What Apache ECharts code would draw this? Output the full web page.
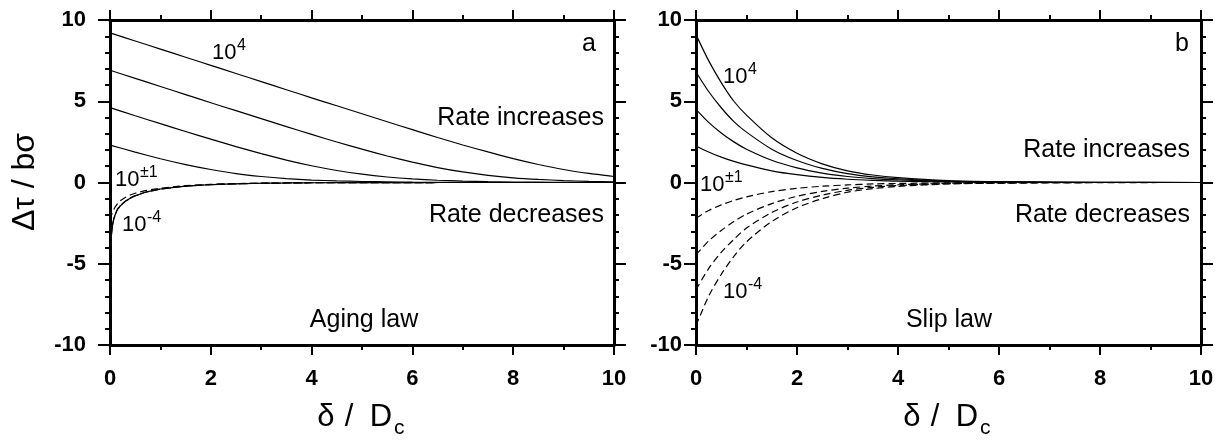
<!DOCTYPE html>
<html>
<head>
<meta charset="utf-8">
<script src="https://cdn.jsdelivr.net/npm/echarts@6/dist/echarts.min.js"></script>
<style>
html,body{margin:0;padding:0;background:#fff;}
#chart{width:1218px;height:441px;}
</style>
</head>
<body>
<div id="chart"></div>
<script>
// ---- data ----
const xTicks = [0, 2, 4, 6, 8, 10];
const yTicks = [-10, -5, 0, 5, 10];

// Panel a: aging law, rate increases (solid)
const agingIncX = [0,0.5,1,1.5,2,2.5,3,3.5,4,4.5,5,5.5,6,6.5,7,7.5,8,8.5,9,9.5,10];
const agingInc4 = [9.21,8.71,8.21,7.71,7.21,6.71,6.21,5.71,5.21,4.72,4.23,3.74,3.25,2.77,2.31,1.88,1.47,1.11,0.80,0.56,0.37];
const agingInc3 = [6.91,6.41,5.91,5.41,4.91,4.42,3.93,3.44,2.96,2.49,2.05,1.63,1.25,0.92,0.65,0.44,0.29,0.19,0.12,0.07,0.04];
const agingInc2 = [4.61,4.11,3.62,3.14,2.67,2.21,1.78,1.38,1.03,0.74,0.51,0.34,0.22,0.14,0.09,0.05,0.03,0.02,0.01,0.01,0.00];
const agingInc1 = [2.30,1.87,1.46,1.10,0.80,0.55,0.37,0.24,0.15,0.10,0.06,0.04,0.02,0.01,0.01,0.00,0.00,0.00,0.00,0.00,0.00];

// Panel a: aging law, rate decreases (dashed)
const agingDecX = [0,0.001,0.003,0.01,0.02,0.03,0.05,0.075,0.1,0.15,0.2,0.3,0.4,0.5,0.7,1,1.5,2,2.5,3,4,5,6,8,10];
const agingDec4 = [-9.21,-6.8,-5.7,-4.4,-3.6,-3.2,-2.65,-2.25,-2.0,-1.65,-1.45,-1.17,-0.97,-0.82,-0.6,-0.4,-0.22,-0.13,-0.08,-0.045,-0.016,-0.006,-0.002,0,0];
const agingDec3 = [-6.91,-6.2,-5.5,-4.4,-3.6,-3.2,-2.64,-2.25,-2.0,-1.65,-1.45,-1.17,-0.97,-0.82,-0.6,-0.4,-0.22,-0.13,-0.08,-0.045,-0.016,-0.006,-0.002,0,0];
const agingDec2 = [-4.61,-4.5,-4.3,-3.9,-3.45,-3.1,-2.6,-2.22,-1.97,-1.63,-1.44,-1.16,-0.96,-0.81,-0.6,-0.4,-0.22,-0.13,-0.08,-0.045,-0.016,-0.006,-0.002,0,0];
const agingDec1 = [-2.30,-2.28,-2.25,-2.18,-2.08,-1.99,-1.84,-1.67,-1.52,-1.3,-1.13,-0.92,-0.77,-0.66,-0.5,-0.35,-0.19,-0.11,-0.07,-0.04,-0.015,-0.005,-0.002,0,0];

// Panel b: slip law
const slipX = [0,0.25,0.5,0.75,1,1.5,2,2.5,3,3.5,4,5,6,7,8,10];
const slipInc4 = [9.1,7.5,6.15,5.0,4.15,2.75,1.8,1.15,0.72,0.46,0.3,0.12,0.05,0.02,0.01,0];
const slipInc3 = [6.8,5.6,4.6,3.75,3.1,2.05,1.35,0.87,0.55,0.35,0.23,0.09,0.04,0.02,0.01,0];
const slipInc2 = [4.5,3.7,3.05,2.5,2.05,1.37,0.9,0.58,0.37,0.24,0.16,0.06,0.03,0.01,0,0];
const slipInc1 = [2.25,1.88,1.56,1.3,1.08,0.72,0.48,0.31,0.2,0.13,0.08,0.03,0.01,0,0,0];
const slipDec4 = [-8.8,-7.0,-5.65,-4.55,-3.65,-2.4,-1.55,-1.0,-0.6,-0.38,-0.24,-0.09,-0.04,-0.015,-0.005,0];
const slipDec3 = [-6.6,-5.3,-4.3,-3.5,-2.8,-1.85,-1.2,-0.78,-0.48,-0.3,-0.19,-0.07,-0.03,-0.01,0,0];
const slipDec2 = [-4.45,-3.6,-2.95,-2.4,-1.95,-1.3,-0.85,-0.55,-0.35,-0.22,-0.14,-0.05,-0.02,-0.01,0,0];
const slipDec1 = [-2.2,-1.72,-1.38,-1.1,-0.88,-0.56,-0.36,-0.23,-0.15,-0.09,-0.06,-0.02,-0.01,0,0,0];

// ---- build chart ----
const FONT = '"Liberation Sans", Arial, Helvetica, sans-serif';
const zip = (xs, ys) => xs.map((x, i) => [x, ys[i]]);

const chart = echarts.init(document.getElementById('chart'), null, {renderer: 'canvas'});

const grids = [
  {left: 110, top: 20, width: 504, height: 325},
  {left: 696, top: 20, width: 505, height: 325}
];

const lineW = 3;
const labelFont = {fontSize: 22, fontWeight: 'bold', color: '#000', fontFamily: FONT};
function xAxis(gi, pos, showLabel) {
  return {
    type: 'value', gridIndex: gi, position: pos,
    min: xTicks[0], max: xTicks[xTicks.length - 1], interval: xTicks[1] - xTicks[0],
    axisLine: {show: true, onZero: false, lineStyle: {color: '#000', width: lineW}},
    axisTick: {show: true, inside: false, length: 10, lineStyle: {color: '#000', width: 2}},
    minorTick: {show: true, splitNumber: 2, length: 5, lineStyle: {color: '#000', width: 2}},
    splitLine: {show: false}, minorSplitLine: {show: false},
    axisLabel: Object.assign({show: showLabel, margin: 23}, labelFont)
  };
}
function yAxis(gi, pos, showLabel, margin) {
  return {
    type: 'value', gridIndex: gi, position: pos,
    min: yTicks[0], max: yTicks[yTicks.length - 1], interval: yTicks[1] - yTicks[0],
    axisLine: {show: true, onZero: false, lineStyle: {color: '#000', width: lineW}},
    axisTick: {show: true, inside: false, length: 12, lineStyle: {color: '#000', width: 2}},
    minorTick: {show: true, splitNumber: 5, length: 5, lineStyle: {color: '#000', width: 2}},
    splitLine: {show: false}, minorSplitLine: {show: false},
    axisLabel: Object.assign({show: showLabel, margin: margin}, labelFont)
  };
}

function line(xi, yi, xs, ys, dashed, smooth) {
  return {
    type: 'line', xAxisIndex: xi, yAxisIndex: yi, data: zip(xs, ys),
    showSymbol: false, symbol: 'none', smooth: smooth,
    lineStyle: {color: '#000', width: 1.2, type: dashed ? [7, 4] : 'solid'},
    silent: true, animation: false, z: 3
  };
}

function txt(x, y, s, size, align) {
  return {
    type: 'text', x: x, y: y, silent: true, z: 10,
    style: {text: s, fill: '#000', font: size + 'px ' + FONT, align: align || 'left', verticalAlign: 'middle'}
  };
}

function powLabel(x, y, base, sup) {
  return [
    txt(x, y, base, 22),
    txt(x + 25, y - 7, sup, 16)
  ];
}

function xTitle(cx) {
  return [
    txt(cx - 36, 417, 'δ', 31, 'center'),
    txt(cx - 13, 417, '/', 31, 'center'),
    txt(cx + 19, 417, 'D', 31, 'center'),
    txt(cx + 32, 428, 'c', 21, 'left')
  ];
}

const graphics = [].concat(
  [{type: 'text', x: 25, y: 182, rotation: Math.PI / 2, silent: true,
    style: {text: 'Δτ / bσ', fill: '#000', font: '32px ' + FONT, align: 'center', verticalAlign: 'middle'}}],
  xTitle(362),
  xTitle(948),
  [txt(596, 44, 'a', 25, 'right'),
   txt(604, 118, 'Rate increases', 25, 'right'),
   txt(604, 215, 'Rate decreases', 25, 'right'),
   txt(364, 320, 'Aging law', 25, 'center'),
   txt(1189, 44, 'b', 25, 'right'),
   txt(1190, 150, 'Rate increases', 25, 'right'),
   txt(1190, 215, 'Rate decreases', 25, 'right'),
   txt(949, 320, 'Slip law', 25, 'center')],
  powLabel(212, 53, '10', '4'),
  powLabel(115, 180, '10', '±1'),
  powLabel(122, 225, '10', '-4'),
  powLabel(723, 77, '10', '4'),
  powLabel(700, 185, '10', '±1'),
  powLabel(723, 292, '10', '-4')
);

chart.setOption({
  backgroundColor: '#fff',
  animation: false,
  grid: grids,
  xAxis: [xAxis(0, 'bottom', true), xAxis(0, 'top', false), xAxis(1, 'bottom', true), xAxis(1, 'top', false)],
  yAxis: [yAxis(0, 'left', true, 24), yAxis(0, 'right', false, 8), yAxis(1, 'left', true, 14), yAxis(1, 'right', false, 8)],
  series: [
    line(0, 0, agingIncX, agingInc4, false, 0.2),
    line(0, 0, agingIncX, agingInc3, false, 0.2),
    line(0, 0, agingIncX, agingInc2, false, 0.2),
    line(0, 0, agingIncX, agingInc1, false, 0.2),
    line(0, 0, agingDecX, agingDec4, true, false),
    line(0, 0, agingDecX, agingDec3, true, false),
    line(0, 0, agingDecX, agingDec2, true, false),
    line(0, 0, agingDecX, agingDec1, true, false),
    line(2, 2, slipX, slipInc4, false, 0.3),
    line(2, 2, slipX, slipInc3, false, 0.3),
    line(2, 2, slipX, slipInc2, false, 0.3),
    line(2, 2, slipX, slipInc1, false, 0.3),
    line(2, 2, slipX, slipDec4, true, 0.3),
    line(2, 2, slipX, slipDec3, true, 0.3),
    line(2, 2, slipX, slipDec2, true, 0.3),
    line(2, 2, slipX, slipDec1, true, 0.3)
  ],
  graphic: graphics
});
</script>
</body>
</html>
